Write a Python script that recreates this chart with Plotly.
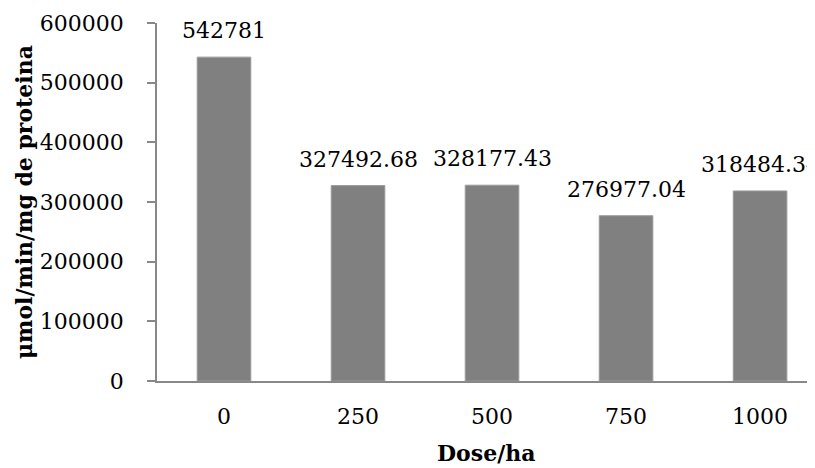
import plotly.graph_objects as go

categories = ["0", "250", "500", "750", "1000"]
values = [542781, 327492.68, 328177.43, 276977.04, 318484.34]
y_ticks = [0, 100000, 200000, 300000, 400000, 500000, 600000]


def fmt(v):
    return ("%.2f" % v).rstrip("0").rstrip(".")


FONT = "DejaVu Serif"
AXIS = "#888888"

fig = go.Figure()
fig.add_trace(go.Bar(
    x=list(range(len(categories))),
    y=values,
    width=0.4,
    marker=dict(color="#808080", line=dict(color="#9a9a9a", width=1)),
    hoverinfo="skip",
))

for i, v in enumerate(values):
    fig.add_annotation(x=i, y=v, xref="x", yref="y", text=fmt(v),
                       showarrow=False, yanchor="bottom", yshift=12,
                       font=dict(family=FONT, size=22, color="black"))

fig.add_annotation(xref="paper", yref="paper", x=0, y=0.5, xshift=-133,
                   text="<b>μmol/min/mg de proteina</b>", textangle=-90,
                   showarrow=False, xanchor="center", yanchor="middle",
                   font=dict(family=FONT, size=22, color="black"))
fig.add_annotation(xref="paper", yref="paper", x=0.5, y=0, yshift=-72,
                   text="<b>Dose/ha</b>", showarrow=False,
                   xanchor="center", yanchor="middle",
                   font=dict(family=FONT, size=22, color="black"))

# page body has a default 8px margin, so the figure is 8px smaller
fig.update_layout(
    width=807, height=460,
    margin=dict(l=149, r=0, t=15, b=87, pad=0),
    plot_bgcolor="white", paper_bgcolor="white",
    showlegend=False,
    font=dict(family=FONT, size=22, color="black"),
)
fig.update_xaxes(
    range=[-0.5, 4.41],
    tickmode="array", tickvals=list(range(len(categories))), ticktext=categories,
    showgrid=False, zeroline=False,
    showline=True, linecolor=AXIS, linewidth=1.5,
    ticks="", ticklabelstandoff=15,
    tickfont=dict(family=FONT, size=22, color="black"),
)
fig.update_yaxes(
    range=[0, 600000],
    tickmode="array", tickvals=y_ticks, ticktext=[str(t) for t in y_ticks],
    showgrid=False, zeroline=False,
    showline=True, linecolor=AXIS, linewidth=1.5,
    ticks="outside", ticklen=8, tickcolor=AXIS, tickwidth=1.5,
    ticklabelstandoff=19,
    tickfont=dict(family=FONT, size=22, color="black"),
)

fig.write_html("out.html")
